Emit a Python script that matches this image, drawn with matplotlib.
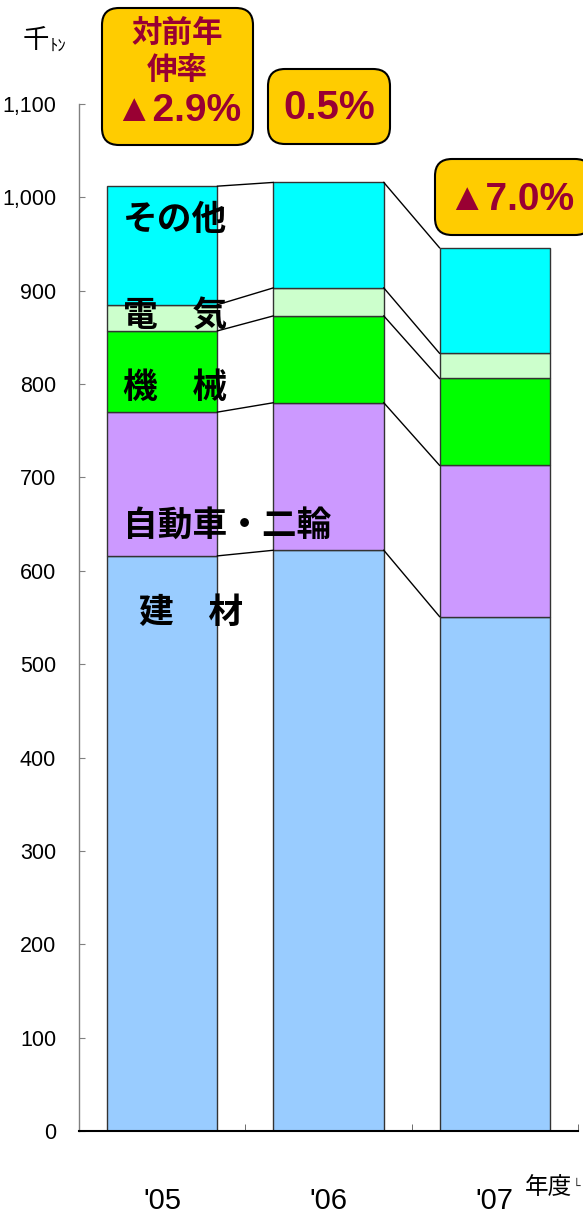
import numpy as np
import matplotlib
matplotlib.use("Agg")
import matplotlib.pyplot as plt
from matplotlib.patches import FancyBboxPatch

# ---- data ----
years = ["'05", "'06", "'07"]
series_names = ["建　材", "自動車・二輪", "機　械", "電　気", "その他"]
kenzai = [616, 622, 551]
jidousha = [154, 158, 162]
kikai = [87, 93, 93]
denki = [28, 30, 27]
sonota = [127, 113, 113]
growth_labels = ["対前年\n伸率", "▲2.9%", "0.5%", "▲7.0%"]
yticks = list(range(0, 1101, 100))

colors = ["#99CCFF", "#CC99FF", "#00FF00", "#CCFFCC", "#00FFFF"]
series = [kenzai, jidousha, kikai, denki, sonota]

CJK = ["Noto Sans CJK JP", "DejaVu Sans"]
LAT = ["Liberation Sans", "Noto Sans CJK JP", "DejaVu Sans"]

W, H = 583, 1220
fig = plt.figure(figsize=(W / 100, H / 100), dpi=100)
ax = fig.add_axes([79 / W, 89 / H, (578 - 79) / W, (1131 - 104) / H])

x = np.arange(len(years))
w = 0.665
bottom = np.zeros(len(years))
for vals, col in zip(series, colors):
    v = np.array(vals, dtype=float)
    ax.bar(x, v, w, bottom=bottom, color=col, edgecolor="#333333", linewidth=1.0, zorder=2)
    bottom = bottom + v
    for i in range(len(x) - 1):
        ax.plot([x[i] + w / 2, x[i + 1] - w / 2], [bottom[i], bottom[i + 1]],
                color="black", lw=1.0, zorder=3)

ax.set_xlim(-0.5, 2.5)
ax.set_ylim(0, 1100)
ax.set_yticks(yticks)
ax.set_yticklabels([f"{t:,}" for t in yticks], family=LAT, fontsize=15.5)
ax.set_xticks(x)
ax.set_xticklabels(years, family=LAT, fontsize=21)
ax.set_xticks([-0.5, 0.5, 1.5, 2.5], minor=True)
ax.tick_params(axis="y", direction="in", length=4, color="#808080", pad=16.5)
ax.tick_params(axis="x", which="major", length=0, pad=40)
ax.tick_params(axis="x", which="minor", direction="in", length=5, color="#555555")
for s in ["top", "right"]:
    ax.spines[s].set_visible(False)
ax.spines["left"].set_color("#808080")
ax.spines["left"].set_linewidth(1.0)
ax.spines["bottom"].set_color("black")
ax.spines["bottom"].set_linewidth(1.5)

# segment labels inside first bar
lab_pos = [(-0.14, 555), (-0.235, 649), (-0.235, 796), (-0.235, 873), (-0.235, 976)]
for name, (lx, ly) in zip(series_names, lab_pos):
    ax.text(lx, ly, name, family=CJK, fontsize=25, fontweight="bold",
            ha="left", va="center", zorder=5)

def fxy(px, py):
    return px / W, 1 - py / H

# unit labels
fig.text(*fxy(36, 40), "千", family=CJK, fontsize=19, ha="center", va="center")
fig.text(*fxy(58, 46), "ﾄﾝ", family=CJK, fontsize=12, ha="center", va="center")
fig.text(*fxy(549, 1188), "年度", family=CJK, fontsize=17, ha="center", va="center")
fig.text(*fxy(576, 1186), "└", family=["DejaVu Sans"], fontsize=9, ha="center",
         va="center", color="#333333")

# growth boxes
boxes = [(102, 8, 253, 145), (268, 69, 390, 144), (435, 159, 592, 235)]
for (x0, y0, x1, y1) in boxes:
    p = FancyBboxPatch((x0 / 100, (H - y1) / 100), (x1 - x0) / 100, (y1 - y0) / 100,
                       boxstyle="round,pad=0,rounding_size=0.17",
                       transform=fig.dpi_scale_trans, facecolor="#FFCC00",
                       edgecolor="black", linewidth=1.5, zorder=10)
    fig.add_artist(p)

red = "#990033"
head_lines = growth_labels[0].split("\n")
for line, py in zip(head_lines, [33, 70]):
    fig.text(*fxy(177, py), line, family=CJK, fontsize=22, fontweight="bold",
             color=red, ha="center", va="center", zorder=11)
fig.text(*fxy(178, 111), growth_labels[1], family=LAT, fontsize=28, fontweight="bold",
         color=red, ha="center", va="center", zorder=11)
fig.text(*fxy(329, 108), growth_labels[2], family=LAT, fontsize=29, fontweight="bold",
         color=red, ha="center", va="center", zorder=11)
fig.text(*fxy(511, 200), growth_labels[3], family=LAT, fontsize=28, fontweight="bold",
         color=red, ha="center", va="center", zorder=11)

fig.savefig("out.png", dpi=100)
